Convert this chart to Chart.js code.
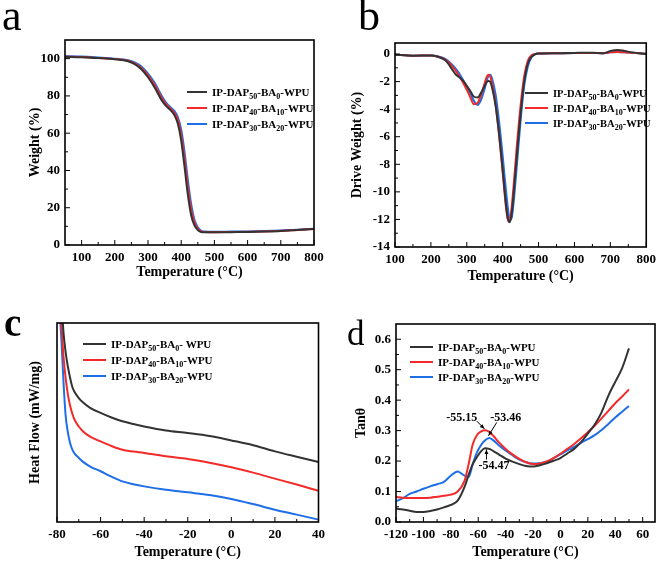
<!DOCTYPE html>
<html>
<head>
<meta charset="utf-8">
<script src="https://cdn.jsdelivr.net/npm/chart.js"></script>
<style>
body { margin: 0; background: #fff; }
#wrap { position: relative; width: 661px; height: 563px; overflow: hidden; }
canvas { position: absolute; }
.lbl { position: absolute; font-family: "Liberation Serif", serif; color: #000; line-height: 1; }
</style>
</head>
<body>
<div id="wrap">
<canvas id="ca" width="330" height="290" style="left:0;top:0"></canvas>
<canvas id="cb" width="331" height="290" style="left:330px;top:0"></canvas>
<canvas id="cc" width="330" height="273" style="left:0;top:290px"></canvas>
<canvas id="cd" width="331" height="273" style="left:330px;top:290px"></canvas>
<div class="lbl" style="left:2px;top:-6px;font-size:44px">a</div>
<div class="lbl" style="left:358px;top:-6px;font-size:44px">b</div>
<div class="lbl" style="left:4px;top:303px;font-size:39px;font-weight:bold">c</div>
<div class="lbl" style="left:347px;top:316px;font-size:35px">d</div>
</div>
<script>
// series names (_nn = subscript)
var names = ['IP-DAP_50-BA_0-WPU', 'IP-DAP_40-BA_10-WPU', 'IP-DAP_30-BA_20-WPU'];
var namesC = ['IP-DAP_50-BA_0- WPU', 'IP-DAP_40-BA_10-WPU', 'IP-DAP_30-BA_20-WPU'];

// a: TGA
var tgaT = [50, 100, 150, 200, 240, 260, 280, 300, 320, 340, 355, 370, 380, 390, 400, 410, 420, 430, 440, 450, 460, 470, 500, 550, 600, 650, 700, 750, 800];
var tgaBlack = [101, 100.8, 100.3, 99.7, 98.6, 97, 94.3, 90, 84.5, 78, 74.5, 72, 69.5, 65, 56, 42, 27, 16, 10.5, 8, 7, 6.8, 6.8, 6.9, 7, 7.2, 7.5, 8, 8.6];
var tgaRed = [101, 100.9, 100.4, 99.8, 98.9, 97.5, 95, 91, 85.8, 79.3, 75.5, 72.8, 70.7, 67, 59, 46, 31, 19, 12, 8.7, 7.3, 7, 6.9, 7, 7.1, 7.3, 7.6, 8.1, 8.6];
var tgaBlue = [101.3, 101.1, 100.6, 100, 99.2, 98, 95.8, 92, 87, 80.5, 76.3, 73.5, 71.8, 68.5, 62, 50, 35, 22, 13.5, 9.5, 7.6, 7.2, 7.1, 7.2, 7.3, 7.5, 7.8, 8.2, 8.7];

// b: DTG
var dtgT = [100, 150, 200, 220, 240, 250, 260, 270, 280, 290, 300, 310, 320, 330, 340, 350, 355, 360, 365, 370, 380, 390, 400, 405, 410, 415, 420, 425, 430, 440, 450, 460, 470, 480, 490, 500, 550, 600, 650, 680, 700, 720, 740, 760, 800];
var dtgBlack = [-0.05, -0.12, -0.1, -0.2, -0.45, -0.75, -1.15, -1.5, -1.7, -1.95, -2.3, -2.7, -3.1, -3.15, -2.8, -2.3, -2.05, -1.95, -2.0, -2.4, -3.7, -5.8, -8.4, -9.8, -11.1, -12.0, -12.2, -11.6, -10.3, -7.2, -4.3, -2.0, -0.7, -0.2, -0.02, 0.03, 0.05, 0.08, 0.1, 0.05, 0.22, 0.3, 0.22, 0.12, 0];
var dtgRed = [-0.05, -0.12, -0.1, -0.2, -0.4, -0.62, -0.9, -1.25, -1.65, -2.1, -2.6, -3.15, -3.65, -3.55, -2.95, -2.1, -1.7, -1.5, -1.6, -2.1, -3.6, -5.9, -8.6, -10.0, -11.3, -12.1, -12.0, -11.1, -9.7, -6.5, -3.7, -1.6, -0.5, -0.1, 0, 0.03, 0.05, 0.07, 0.08, 0.06, 0.12, 0.15, 0.12, 0.1, 0];
var dtgBlue = [-0.05, -0.12, -0.1, -0.18, -0.35, -0.55, -0.8, -1.1, -1.45, -1.9, -2.35, -2.85, -3.4, -3.7, -3.3, -2.5, -2.0, -1.6, -1.5, -1.75, -2.9, -4.9, -7.4, -8.8, -10.1, -11.3, -12.05, -11.9, -10.9, -7.9, -4.8, -2.3, -0.9, -0.25, -0.03, 0.03, 0.05, 0.07, 0.08, 0.06, 0.12, 0.15, 0.12, 0.1, 0];

// c: DSC (arbitrary units)
var dscT = [-79, -78, -77, -76, -75, -74, -73, -72, -70, -68, -65, -60, -55, -50, -45, -40, -30, -20, -10, 0, 10, 20, 30, 40];
var dscBlack = [130, 112, 95, 85, 78, 72.5, 68, 65.5, 62.3, 60, 57.5, 54.8, 52.5, 50.6, 49.2, 48, 46, 44.7, 43.2, 41, 38.6, 35.5, 32.8, 30.2];
var dscRed = [120, 100, 83, 72, 64, 58.5, 54.5, 51.5, 48, 45.5, 43, 40.5, 38.2, 36.3, 35.4, 34.7, 33, 31.7, 29.8, 27.5, 24.8, 21.8, 18.8, 15.7];
var dscBlue = [110, 92, 70, 53, 45, 39.7, 36.5, 34.5, 32.2, 30.2, 28, 25.5, 22.8, 20.4, 19, 17.9, 16.2, 14.9, 13.6, 11.6, 9, 6.2, 3.7, 1.2];

// d: DMA tan
var dmaT = [-120, -115, -110, -105, -100, -95, -90, -85, -80, -75, -70, -67, -64, -61, -58, -55, -52, -49, -45, -40, -35, -30, -25, -20, -15, -10, -5, 0, 5, 10, 15, 20, 25, 30, 35, 40, 45, 50];
var dmaBlack = [0.044, 0.041, 0.037, 0.033, 0.033, 0.036, 0.041, 0.048, 0.056, 0.07, 0.115, 0.155, 0.19, 0.213, 0.232, 0.242, 0.24, 0.233, 0.222, 0.208, 0.198, 0.19, 0.184, 0.182, 0.186, 0.193, 0.201, 0.21, 0.225, 0.24, 0.262, 0.29, 0.32, 0.36, 0.415, 0.46, 0.505, 0.57];
var dmaRed = [0.082, 0.08, 0.079, 0.079, 0.079, 0.08, 0.083, 0.086, 0.09, 0.1, 0.135, 0.19, 0.255, 0.285, 0.297, 0.301, 0.296, 0.283, 0.262, 0.24, 0.222, 0.207, 0.196, 0.19, 0.192, 0.199, 0.21, 0.224, 0.24, 0.256, 0.275, 0.295, 0.316, 0.34, 0.365, 0.39, 0.412, 0.435];
var dmaBlue = [0.068, 0.078, 0.092, 0.1, 0.109, 0.117, 0.124, 0.132, 0.152, 0.166, 0.152, 0.148, 0.19, 0.228, 0.252, 0.268, 0.276, 0.268, 0.252, 0.235, 0.219, 0.205, 0.196, 0.192, 0.193, 0.198, 0.21, 0.222, 0.235, 0.247, 0.26, 0.272, 0.285, 0.302, 0.322, 0.343, 0.362, 0.381];
var peakNotes = [
  { text: '-55.15', tx: -72, ty: 0.342, from: [-61, 0.331], to: [-55.5, 0.306] },
  { text: '-53.46', tx: -40, ty: 0.342, from: [-46.5, 0.327], to: [-52.5, 0.283] },
  { text: '-54.47', tx: -48.5, ty: 0.183, from: [-54, 0.205], to: [-54, 0.238] }
];

// tick labels
var ticksAx = [100, 200, 300, 400, 500, 600, 700, 800];
var ticksAy = [0, 20, 40, 60, 80, 100];
var ticksBx = [100, 200, 300, 400, 500, 600, 700, 800];
var ticksBy = [-14, -12, -10, -8, -6, -4, -2, 0];
var ticksCx = [-80, -60, -40, -20, 0, 20, 40];
var ticksDx = [-120, -100, -80, -60, -40, -20, 0, 20, 40, 60];
var ticksDy = [0, 0.1, 0.2, 0.3, 0.4, 0.5, 0.6];

var FONT = '"Liberation Serif", "Times New Roman", serif';
var cBlack = '#333333', cRed = '#f42a2a', cBlue = '#1e6fe6';

function pts(xs, ys) {
  return xs.map(function (t, i) { return { x: t, y: ys[i] }; });
}

function line(ctx, x1, y1, x2, y2) {
  ctx.beginPath(); ctx.moveTo(x1, y1); ctx.lineTo(x2, y2); ctx.stroke();
}

// box round the plot + inward ticks
var frame = {
  id: 'frame',
  afterDraw: function (chart, args, o) {
    var ctx = chart.ctx, a = chart.chartArea, sx = chart.scales.x, sy = chart.scales.y;
    ctx.save();
    ctx.strokeStyle = '#000';
    ctx.lineWidth = 1.6;
    ctx.strokeRect(a.left, a.top, a.right - a.left, a.bottom - a.top);
    ctx.lineWidth = 1;
    var xs = sx.ticks.map(function (t) { return t.value; });
    xs.forEach(function (v, i) {
      var p = sx.getPixelForValue(v);
      line(ctx, p, a.bottom, p, a.bottom - 5);
      if (i < xs.length - 1) {
        var m = sx.getPixelForValue((v + xs[i + 1]) / 2);
        line(ctx, m, a.bottom, m, a.bottom - 3);
      }
    });
    if (o.yTicks) {
      var ys = sy.ticks.map(function (t) { return t.value; });
      ys.forEach(function (v, i) {
        var p = sy.getPixelForValue(v);
        line(ctx, a.left, p, a.left + 5, p);
        if (i < ys.length - 1) {
          var m = sy.getPixelForValue((v + ys[i + 1]) / 2);
          line(ctx, a.left, m, a.left + 3, m);
        }
      });
    }
    ctx.restore();
  }
};

// legend with subscripts
var subLegend = {
  id: 'subLegend',
  afterDraw: function (chart, args, o) {
    var ctx = chart.ctx;
    chart.data.datasets.forEach(function (ds, i) {
      var y = o.y + i * o.gap;
      ctx.save();
      ctx.strokeStyle = ds.borderColor;
      ctx.lineWidth = 2;
      line(ctx, o.x, y, o.x + o.len, y);
      var tx = o.x + o.len + 5;
      ctx.fillStyle = '#000';
      ctx.textBaseline = 'alphabetic';
      ds.label.split(/(_\d+)/).forEach(function (p) {
        if (!p) return;
        var sub = p[0] === '_';
        var s = sub ? p.slice(1) : p;
        ctx.font = 'bold ' + (sub ? 8 : o.size) + 'px ' + FONT;
        ctx.fillText(s, tx, y + 4 + (sub ? 3 : 0));
        tx += ctx.measureText(s).width;
      });
      ctx.restore();
    });
  }
};

// peak labels with arrows
var notes = {
  id: 'notes',
  afterDraw: function (chart, args, o) {
    if (!o.items) return;
    var ctx = chart.ctx, sx = chart.scales.x, sy = chart.scales.y;
    ctx.save();
    ctx.fillStyle = '#000';
    ctx.strokeStyle = '#000';
    ctx.lineWidth = 1;
    ctx.font = 'bold 12px ' + FONT;
    ctx.textAlign = 'center';
    ctx.textBaseline = 'middle';
    o.items.forEach(function (n) {
      ctx.fillText(n.text, sx.getPixelForValue(n.tx), sy.getPixelForValue(n.ty));
      var x1 = sx.getPixelForValue(n.from[0]), y1 = sy.getPixelForValue(n.from[1]);
      var x2 = sx.getPixelForValue(n.to[0]), y2 = sy.getPixelForValue(n.to[1]);
      line(ctx, x1, y1, x2, y2);
      var ang = Math.atan2(y2 - y1, x2 - x1);
      ctx.beginPath();
      ctx.moveTo(x2, y2);
      ctx.lineTo(x2 - 5 * Math.cos(ang - 0.4), y2 - 5 * Math.sin(ang - 0.4));
      ctx.lineTo(x2 - 5 * Math.cos(ang + 0.4), y2 - 5 * Math.sin(ang + 0.4));
      ctx.closePath();
      ctx.fill();
    });
    ctx.restore();
  }
};

function plot(id, sets, o) {
  return new Chart(document.getElementById(id), {
    type: 'line',
    data: { datasets: sets },
    options: {
      responsive: false,
      animation: false,
      devicePixelRatio: 1,
      layout: { padding: { top: o.top, right: o.right, bottom: 0, left: 0 } },
      elements: {
        point: { radius: 0 },
        line: { borderWidth: 2, cubicInterpolationMode: 'monotone' }
      },
      plugins: {
        legend: { display: false },
        tooltip: { enabled: false },
        frame: { yTicks: o.yTicks !== null },
        subLegend: o.legend,
        notes: { items: o.notes }
      },
      scales: {
        x: {
          type: 'linear', min: o.xmin, max: o.xmax,
          afterBuildTicks: function (s) { s.ticks = o.xTicks.map(function (v) { return { value: v }; }); },
          afterFit: function (s) { s.height = o.xh; },
          grid: { display: false, drawTicks: false },
          border: { display: false },
          ticks: { color: '#000', autoSkip: false, maxRotation: 0, padding: 5, font: { family: FONT, size: 13, weight: 'bold' } },
          title: { display: true, text: 'Temperature (°C)', color: '#000', padding: { top: 0, bottom: o.xtp }, font: { family: FONT, size: 14, weight: 'bold' } }
        },
        y: {
          type: 'linear', min: o.ymin, max: o.ymax,
          afterBuildTicks: function (s) { if (o.yTicks) s.ticks = o.yTicks.map(function (v) { return { value: v }; }); },
          afterFit: function (s) { s.width = o.yw; },
          grid: { display: false, drawTicks: false },
          border: { display: false },
          ticks: {
            display: o.yTicks !== null, color: '#000', padding: 5,
            font: { family: FONT, size: 13, weight: 'bold' },
            callback: o.yfmt || function (v) { return v; }
          },
          title: { display: true, text: o.ytitle, color: '#000', padding: { top: o.ytp, bottom: 0 }, font: { family: FONT, size: 14, weight: 'bold' } }
        }
      }
    },
    plugins: [frame, subLegend, notes]
  });
}

function three(xs, a, b, c, lbl) {
  return [
    { label: lbl[0], data: pts(xs, a), borderColor: cBlack },
    { label: lbl[1], data: pts(xs, b), borderColor: cRed },
    { label: lbl[2], data: pts(xs, c), borderColor: cBlue }
  ];
}

plot('ca', three(tgaT, tgaBlack, tgaRed, tgaBlue, names), {
  top: 40, right: 16, xh: 45, yw: 65, xtp: 9, ytp: 27,
  xmin: 50, xmax: 800, ymin: 0, ymax: 110,
  xTicks: ticksAx, yTicks: ticksAy, ytitle: 'Weight (%)',
  legend: { x: 187, y: 92, gap: 16, len: 20, size: 11 }
});

plot('cb', three(dtgT, dtgBlack, dtgRed, dtgBlue, names), {
  top: 43, right: 12, xh: 43, yw: 65, xtp: 5, ytp: 19,
  xmin: 100, xmax: 800, ymin: -14, ymax: 0.8,
  xTicks: ticksBx, yTicks: ticksBy, ytitle: 'Drive Weight (%)',
  legend: { x: 195, y: 93, gap: 15, len: 23, size: 10.5 }
});

plot('cc', three(dscT, dscBlack, dscRed, dscBlue, namesC), {
  top: 33, right: 9, xh: 41, yw: 57, xtp: 2, ytp: 27,
  xmin: -80, xmax: 40, ymin: 0, ymax: 100,
  xTicks: ticksCx, yTicks: null, ytitle: 'Heat Flow (mW/mg)',
  legend: { x: 83, y: 54, gap: 16, len: 23, size: 11 }
});

plot('cd', three(dmaT, dmaBlack, dmaRed, dmaBlue, names), {
  top: 34, right: 6, xh: 41, yw: 66, xtp: 2, ytp: 23,
  xmin: -120, xmax: 69, ymin: 0, ymax: 0.65,
  xTicks: ticksDx, yTicks: ticksDy, ytitle: 'Tanθ',
  yfmt: function (v) { return v.toFixed(1); },
  legend: { x: 80, y: 57, gap: 15, len: 23, size: 11 },
  notes: peakNotes
});
</script>
</body>
</html>
